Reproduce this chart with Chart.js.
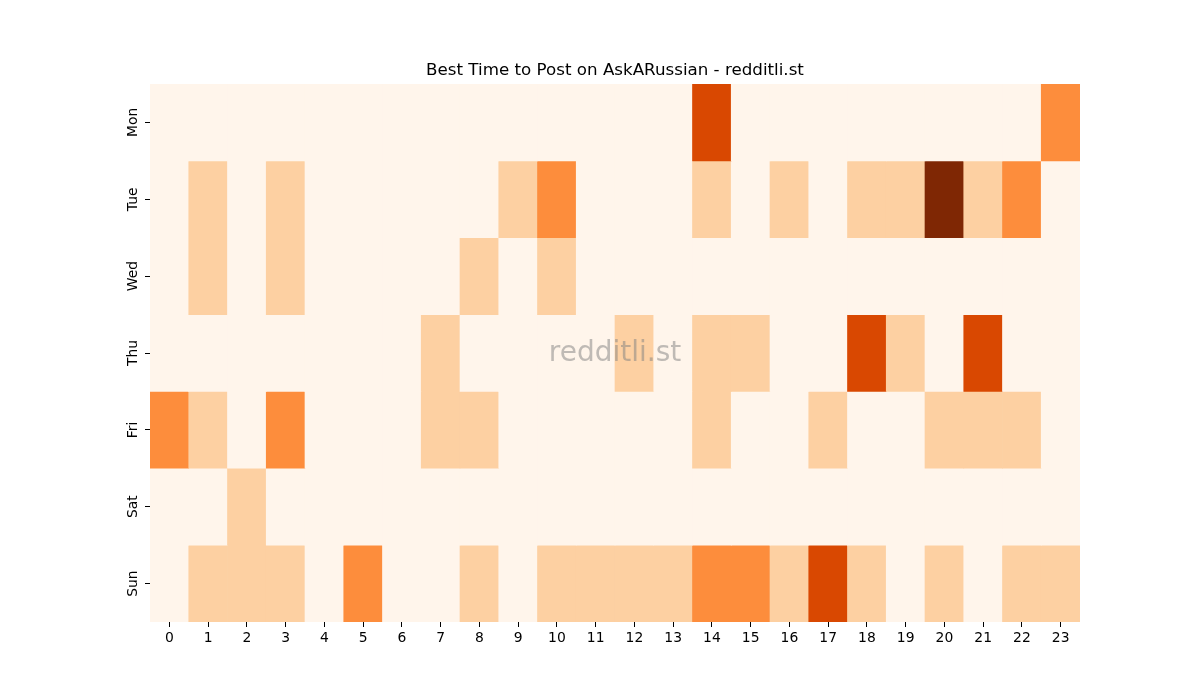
<!DOCTYPE html>
<html>
<head>
<meta charset="utf-8">
<script src="https://cdn.jsdelivr.net/npm/chart.js@4.4.0/dist/chart.umd.min.js"></script>
<style>
  html, body { margin: 0; padding: 0; background: #fff; }
  #wrap { width: 1200px; height: 700px; }
</style>
</head>
<body>
<div id="wrap"><canvas id="heat" width="1200" height="700"></canvas></div>
<script>
// heatmap levels per weekday, hours 0..23 (0 = lowest, 4 = highest)
const HOURS = ['0','1','2','3','4','5','6','7','8','9','10','11','12','13','14','15','16','17','18','19','20','21','22','23'];
const DAYS = ['Mon','Tue','Wed','Thu','Fri','Sat','Sun'];
const MON = [0,0,0,0,0,0,0,0,0,0,0,0,0,0,3,0,0,0,0,0,0,0,0,2];
const TUE = [0,1,0,1,0,0,0,0,0,1,2,0,0,0,1,0,1,0,1,1,4,1,2,0];
const WED = [0,1,0,1,0,0,0,0,1,0,1,0,0,0,0,0,0,0,0,0,0,0,0,0];
const THU = [0,0,0,0,0,0,0,1,0,0,0,0,1,0,1,1,0,0,3,1,0,3,0,0];
const FRI = [2,1,0,2,0,0,0,1,1,0,0,0,0,0,1,0,0,1,0,0,1,1,1,0];
const SAT = [0,0,1,0,0,0,0,0,0,0,0,0,0,0,0,0,0,0,0,0,0,0,0,0];
const SUN = [0,1,1,1,0,2,0,0,1,0,1,1,1,1,2,2,1,3,1,0,1,0,1,1];
const ROWS = [MON, TUE, WED, THU, FRI, SAT, SUN];
const PALETTE = ['#fff5eb','#fdd0a2','#fd8d3c','#d94801','#7f2704'];
const TITLE = 'Best Time to Post on AskARussian - redditli.st';

const FONT = 'DejaVu Sans';

// title over the plot area + watermark in its middle
const decor = {
  id: 'decor',
  afterDatasetsDraw(chart){
    const a = chart.chartArea, c = chart.ctx;
    const cx = (a.left + a.right) / 2;
    c.save();
    c.textAlign = 'center';
    c.textBaseline = 'middle';
    c.font = '28px "' + FONT + '"';
    c.fillStyle = 'rgba(128,128,128,0.5)';
    c.fillText('redditli.st', cx, (a.top + a.bottom) / 2 + 1);
    c.font = '16.7px "' + FONT + '"';
    c.fillStyle = '#000';
    c.fillText(TITLE, cx, a.top - 13);
    c.restore();
  }
};

new Chart(document.getElementById('heat'), {
  type: 'bar',
  data: {
    labels: HOURS,
    datasets: ROWS.map((r, i) => ({
      label: DAYS[i],
      data: r.map(() => 1),
      backgroundColor: r.map(v => PALETTE[v]),
      borderWidth: 0,
      barPercentage: 1,
      categoryPercentage: 1
    }))
  },
  options: {
    responsive: false,
    animation: false,
    layout: { padding: { left: 0, right: 120, top: 84, bottom: 0 } },
    plugins: {
      legend: { display: false },
      tooltip: { enabled: false },
      title: { display: false }
    },
    scales: {
      x: {
        stacked: true,
        offset: true,
        grid: { offset: false, drawOnChartArea: false, tickLength: 5, tickColor: '#000' },
        border: { display: false },
        ticks: { color: '#000', font: { family: FONT, size: 13.9 }, padding: 3, maxRotation: 0, autoSkip: false },
        afterFit: s => { s.height = 78; }
      },
      y: {
        stacked: true,
        min: 0, max: 7,
        reverse: true,
        grid: { drawOnChartArea: false, tickLength: 5, tickColor: '#000' },
        border: { display: false },
        afterBuildTicks: s => { s.ticks = DAYS.map((d, i) => ({ value: i + 0.5 })); },
        ticks: {
          color: '#000', font: { family: FONT, size: 13.9 }, padding: -4,
          minRotation: 90, maxRotation: 90, crossAlign: 'center',
          callback: v => DAYS[Math.floor(v)]
        },
        afterFit: s => { s.width = 150; }
      }
    }
  },
  plugins: [decor]
});
</script>
</body>
</html>
